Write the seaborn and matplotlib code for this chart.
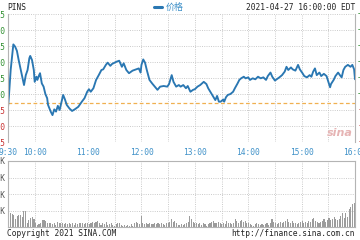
import numpy as np
import pandas as pd
import matplotlib
matplotlib.use("Agg")
import matplotlib.pyplot as plt
import seaborn as sns

# ---------------- data ----------------
ticker = "PINS"
stamp = "2021-04-27 16:00:00 EDT"
series_name = "价格"
prev_close = 74.73

# minutes after 9:30
price_minutes = [0,1,3,5,6,8,10,12,14,16,
                 18,20,22,24,25,27,29,30,32,33,
                 35,36,38,40,42,44,45,48,50,52,
                 54,56,58,60,62,64,66,69,72,75,
                 79,83,86,89,91,93,96,99,102,105,
                 107,110,112,115,117,120,122,125,128,130,
                 133,136,140,144,147,149,150,152,154,156,
                 159,162,165,168,171,175,179,181,184,186,
                 189,192,194,197,200,202,205,208,210,213,
                 216,220,223,225,228,230,233,235,237,239,
                 242,243,245,247,250,253,255,258,260,262,
                 265,267,270,272,275,278,281,284,287,290,
                 292,295,297,300,302,305,308,311,313,315,
                 318,320,323,326,328,331,333,336,339,341,
                 343,345,347,350,352,355,358,360,362,363,
                 366,368,371,373,375,377,379,382,385,387,
                 389,390]
price_values = [74.58,74.92,75.75,76.27,76.55,76.48,76.35,76.06,75.80,75.54,
                75.28,75.59,75.75,76.12,76.19,76.06,75.75,75.38,75.54,75.44,
                75.59,75.65,75.33,75.23,75.00,74.87,74.66,74.45,74.34,74.52,
                74.45,74.63,74.50,74.73,74.97,74.83,74.66,74.55,74.47,74.52,
                74.60,74.76,74.87,75.07,75.15,75.07,75.18,75.44,75.59,75.75,
                75.77,75.91,75.98,75.88,75.94,75.98,76.01,76.04,75.85,75.96,
                75.75,75.65,75.73,75.77,75.80,75.67,75.91,76.08,75.98,75.75,
                75.44,75.33,75.23,75.13,75.23,75.25,75.23,75.31,75.59,75.38,
                75.23,75.28,75.23,75.28,75.18,75.25,75.07,75.13,75.15,75.23,
                75.28,75.38,75.31,75.18,75.04,74.94,74.81,74.94,74.76,74.76,
                74.83,74.76,74.90,74.97,75.00,75.07,75.18,75.33,75.44,75.49,
                75.54,75.49,75.52,75.44,75.49,75.46,75.54,75.49,75.52,75.44,
                75.56,75.67,75.54,75.42,75.46,75.52,75.59,75.70,75.85,75.75,
                75.83,75.77,75.73,75.91,75.77,75.65,75.56,75.52,75.59,75.54,
                75.70,75.80,75.59,75.67,75.56,75.63,75.56,75.38,75.21,75.31,
                75.44,75.56,75.67,75.59,75.52,75.75,75.85,75.91,75.85,75.91,
                75.77,75.46]

# volume (K shares) per interval bar, in order through the session
volume_k = [112,82,76,72,46,66,70,72,58,98,96,26,42,56,62,46,22,12,18,26,
            42,42,38,26,22,26,18,22,12,32,26,22,26,18,22,18,26,16,22,12,
            26,18,22,26,22,18,26,22,16,22,28,22,32,36,22,12,26,18,28,12,
            18,26,12,8,18,22,26,12,8,12,8,12,8,16,8,22,32,22,16,66,
            26,16,26,16,22,18,16,22,18,22,16,26,18,12,22,26,32,46,32,38,
            22,12,
            12,18,12,18,22,32,66,46,32,22,26,16,22,12,26,16,8,18,22,32,
            38,26,22,32,26,16,22,16,38,26,22,16,26,46,38,26,38,42,32,38,
            26,22,16,12,8,16,26,16,12,16,12,16,22,12,26,46,32,22,16,26,
            32,22,32,38,46,32,26,38,22,26,16,26,32,38,22,32,26,38,32,46,
            52,38,32,26,32,38,46,32,42,52,42,46,58,46,42,46,66,86,52,82,
            62,112,122,138,146]

price_ticks = [77.5, 77.0, 76.5, 76.0, 75.5, 75.0, 74.5, 74.0, 73.5]
vol_ticks = [100, 200, 300, 400]
vol_tick_labels = ["100K", "200K", "300K", "400K"]
grid_minutes = [0, 30, 60, 90, 120, 150, 180, 210, 240, 270, 300, 330, 360, 390]
time_labels = ["9:30", "10:00", "", "11:00", "", "12:00", "", "13:00", "", "14:00", "", "15:00", "", "16:00"]
session_len = 390

# ---------------- style ----------------
W, H = 360, 240
LINE = "#2a77b2"
GRID = "#c4c4c4"
BORDER = "#b4b4b4"
GREEN = "#2f8f2f"
RED = "#c83030"
TBLUE = "#3d90c8"
MONO = "DejaVu Sans Mono"
FS = 5.7

sns.set_theme(style="white")
plt.rcParams['font.family'] = [MONO, 'Noto Sans CJK SC', 'DejaVu Sans']

fig = plt.figure(figsize=(W / 100, H / 100), dpi=100)
fig.patch.set_facecolor("white")

def fx(px):
    return px / W

def fy(py):
    return 1 - py / H

x0, x1 = 8, 355
ax = fig.add_axes([fx(x0), fy(142), fx(x1 - x0), fy(14) - fy(142)])
axv = fig.add_axes([fx(x0), fy(227), fx(x1 - x0), fy(161) - fy(227)])

price_df = pd.DataFrame({"minute": price_minutes, "price": price_values})
sns.lineplot(data=price_df, x="minute", y="price", ax=ax, color=LINE, lw=1.35,
             legend=False)

ax.set_xlim(0, session_len)
ax.set_ylim(min(price_ticks), max(price_ticks))
ax.set_xticks(grid_minutes)
ax.set_xticklabels(time_labels)
ax.set_yticks(price_ticks)
ax.set_yticklabels([f"{v:.1f}" for v in price_ticks])
ax.tick_params(axis="both", length=0, labelsize=FS)
ax.tick_params(axis="x", pad=4)
ax.tick_params(axis="y", pad=1.5)
for lbl, v in zip(ax.get_yticklabels(), price_ticks):
    lbl.set_color(GREEN if v > prev_close else RED)
for lbl in ax.get_xticklabels():
    lbl.set_color(TBLUE)
ax.grid(True, color=GRID, lw=0.6, ls=(0, (1.2, 1.5)))
ax.set_xlabel("")
ax.set_ylabel("")
for s in ["top", "bottom"]:
    ax.spines[s].set_visible(False)
for s in ["left", "right"]:
    ax.spines[s].set_color(BORDER)
    ax.spines[s].set_linewidth(0.8)
ax.axhline(prev_close, color="#f0b050", lw=0.9, ls=(0, (3, 2)), zorder=1)

# right-hand percentage labels
for v in price_ticks:
    pct = (v - prev_close) / prev_close * 100
    ax.text(1 + 2.5 / (x1 - x0), v, f"{pct:+.2f}%", transform=ax.get_yaxis_transform(),
            ha="left", va="center", fontsize=FS, color=GREEN if v > prev_close else RED,
            clip_on=False)

# volume
n = len(volume_k)
edges = np.linspace(0, session_len, n + 1)
centers = (edges[:-1] + edges[1:]) / 2
vol_df = pd.DataFrame({"minute": centers, "vol": volume_k})
sns.barplot(data=vol_df, x="minute", y="vol", ax=axv, native_scale=True,
            color="#9c9c9c", width=0.65, linewidth=0, saturation=1, errorbar=None)
axv.set_xlim(0, session_len)
axv.set_ylim(0, 400)
axv.set_xticks(grid_minutes)
axv.set_xticklabels([])
axv.set_yticks(vol_ticks)
axv.set_yticklabels(vol_tick_labels)
axv.tick_params(axis="both", length=0, labelsize=FS)
axv.tick_params(axis="y", pad=2, colors="#555555")
axv.grid(True, color=GRID, lw=0.6, ls=(0, (1.2, 1.5)))
axv.set_axisbelow(True)
axv.set_xlabel("")
axv.set_ylabel("")
for s in axv.spines.values():
    s.set_color(BORDER)
    s.set_linewidth(0.8)

# header / footer
fig.text(fx(7), fy(8), ticker, ha="left", va="center", fontsize=FS, color="#222222", family=MONO)
fig.text(fx(355), fy(8), stamp, ha="right", va="center", fontsize=FS, color="#222222", family=MONO)
fig.add_artist(plt.Line2D([fx(154), fx(162)], [fy(7), fy(7)], color=LINE, lw=2.2))
fig.text(fx(166), fy(7.5), series_name, ha="left", va="center", fontsize=6.5, color=TBLUE,
         family=["Noto Sans CJK SC", "DejaVu Sans"])
fig.text(fx(7), fy(234), "Copyright 2021 SINA.COM", ha="left", va="center", fontsize=FS,
         color="#222222", family=MONO)
fig.text(fx(355), fy(234), "http://finance.sina.com.cn", ha="right", va="center", fontsize=FS,
         color="#222222", family=MONO)
fig.text(fx(340), fy(133), "sina", ha="center", va="center", fontsize=8, fontstyle="italic",
         fontweight="bold", color="#e6b4b4", family="DejaVu Sans")

fig.savefig("out.png", dpi=100, facecolor="white")
